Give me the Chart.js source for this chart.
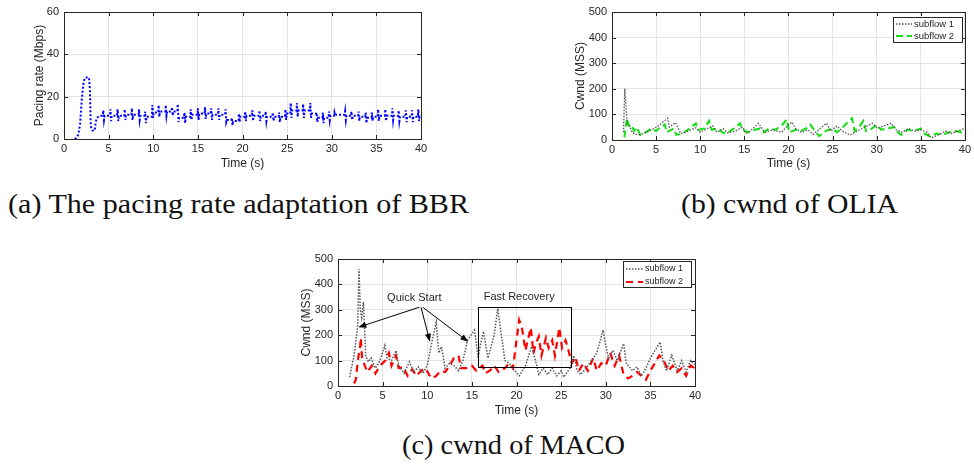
<!DOCTYPE html>
<html>
<head>
<meta charset="utf-8">
<script src="https://cdn.jsdelivr.net/npm/chart.js@4.4.0/dist/chart.umd.min.js"></script>
<style>
  body { margin: 0; background: #fff; width: 974px; height: 464px; position: relative; overflow: hidden; }
  canvas { position: absolute; }
  .cap { position: absolute; font-family: "Liberation Serif", "Times New Roman", serif; font-size: 27px; line-height: 28px; white-space: nowrap; color: #111; transform-origin: 0 0; }
</style>
</head>
<body>
<canvas id="bbr" width="440" height="178" style="left:0;top:0"></canvas>
<canvas id="olia" width="434" height="178" style="left:540px;top:0"></canvas>
<canvas id="maco" width="430" height="180" style="left:290px;top:245px"></canvas>
<div class="cap" data-w="461" style="left:8px;top:190px">(a) The pacing rate adaptation of BBR</div>
<div class="cap" data-w="217" style="left:681px;top:190px">(b) cwnd of OLIA</div>
<div class="cap" data-w="223" style="left:402px;top:431px">(c) cwnd of MACO</div>
<script>
// (a) BBR pacing rate, Mbps
const bbrTime = [1.2,1.4,1.6,1.8,2.0,2.2,2.35,2.8,2.9,3.0,3.2,3.45,3.55,3.7,4.0,
  4.35,4.4,4.48,4.55, 5.15,5.2,5.28,5.35, 5.95,6.0,6.08,6.15, 6.75,6.8,6.88,6.95,
  7.55,7.6,7.68,7.75, 8.35,8.4,8.48,8.55, 9.05,9.1,9.18,9.25, 9.85,9.9,9.98,10.05,
  10.55,10.6,10.68,10.75, 11.35,11.4,11.48,11.55, 12.05,12.1,12.18,12.25, 12.7,12.75,12.83,12.9,
  13.45,13.5,13.58,13.65, 14.15,14.2,14.28,14.35, 14.95,15.0,15.08,15.15, 15.75,15.8,15.88,15.95,
  16.45,16.5,16.58,16.65, 17.25,17.3,17.38,17.45, 18.05,18.1,18.18,18.25, 18.75,18.8,18.88,18.95,
  19.55,19.6,19.68,19.75, 20.25,20.3,20.38,20.45, 21.05,21.1,21.18,21.25, 21.85,21.9,21.98,22.05,
  22.55,22.6,22.68,22.75, 23.35,23.4,23.48,23.55, 24.05,24.1,24.18,24.25, 24.75,24.8,24.88,24.95,
  25.35,25.4,25.48,25.55, 26.05,26.1,26.18,26.25, 26.75,26.8,26.88,26.95, 27.55,27.6,27.68,27.75,
  28.25,28.3,28.38,28.45, 28.95,29.0,29.08,29.15, 29.65,29.7,29.78,29.85, 30.25,30.3,30.38,30.45,
  31.45,31.5,31.58,31.65, 32.15,32.2,32.28,32.35, 32.95,33.0,33.08,33.15, 33.75,33.8,33.88,33.95,
  34.45,34.5,34.58,34.65, 35.15,35.2,35.28,35.35, 35.95,36.0,36.08,36.15, 36.75,36.8,36.88,36.95,
  37.45,37.5,37.58,37.65, 38.25,38.3,38.38,38.45, 38.95,39.0,39.08,39.15, 39.65,39.7,39.78,39.85, 40.0];
const bbrRate = [0,0.5,2,7,19,27,29,29,24,6,4,4,8,10,11,
  11,13.5,9,11, 11,14,8.5,11, 11,14,8.5,11, 11,14,9,11.5,
  11.5,14.5,9,11.5, 11.5,14,9,11, 11,13,7.5,10.5, 10.5,16,10,12.5,
  12.5,16,10.5,13, 13,16,11,13, 13,15,11,13, 13,16.5,8,10,
  10,12.5,7.5,10.5, 10.5,14,9,11.5, 11.5,14.5,9,12, 12,15,9.5,12,
  12,14.5,9,11.5, 11.5,14.5,9,11.5, 11.5,14,8,9, 9,10,6.5,8.5,
  8.5,12,8,10.5, 10.5,13,8.5,11, 11,13.5,8.5,11, 11,13.5,8.5,11,
  11,13,8.5,10.5, 10.5,12.5,8.5,10.5, 10.5,12.5,8,10.5, 10.5,14,9,12,
  12,17,10,13.5, 13.5,17,10.5,13.5, 13.5,16.5,10,13.5, 13.5,17,10,12,
  12,12.5,8,10, 10,12.5,7.5,10, 10,13,9,11, 11,12.5,11,11.5,
  11.5,13,9,11, 11,13,9,11, 11,13,8.5,10.5, 10.5,12.5,7.5,10,
  10,12.5,8.5,10.5, 10.5,14,8.5,11, 11,14,8.5,11, 11,14.5,9,11,
  11,13.5,8.5,10.5, 10.5,13.5,8,10.5, 10.5,13.5,8,10.5, 10.5,14,8.5,11, 11];

// (b) OLIA congestion windows, MSS
const olia1Time = [1.3,1.45,1.6,1.75,2.0,2.3,2.6,3.0,3.5,4.2,5.0,5.6,6.3,6.5,7.2,7.8,8.6,9.5,10.0,10.8,
  11.4,11.9,12.6,13.1,14.0,14.8,15.2,16.0,16.6,17.3,18.3,19.2,19.9,20.4,20.8,21.5,22.2,22.8,23.6,24.3,
  24.8,25.5,26.3,27.0,27.8,28.6,29.5,30.1,30.8,31.6,32.2,32.9,33.6,34.3,35.0,35.7,36.2,37.0,37.8,38.4,39.2,40.0];
const olia1Cwnd = [30,200,120,60,55,30,22,20,25,35,50,65,85,50,68,25,35,48,30,45,
  55,30,45,28,35,50,25,45,65,30,40,30,55,70,45,30,40,22,45,65,
  35,55,30,20,35,50,65,45,55,65,40,30,45,35,40,30,8,20,35,25,35,45];
const olia2Time = [1.4,1.7,1.9,2.2,2.5,2.8,3.2,3.8,4.5,5.0,5.5,6.0,6.2,7.0,7.3,8.0,8.8,9.5,9.8,10.5,
  11.0,11.3,12.0,12.5,13.0,13.8,14.5,14.8,15.5,16.2,16.8,17.2,17.8,18.5,19.2,19.8,20.1,20.8,21.4,22.0,
  22.5,23.0,23.5,24.2,25.0,25.5,26.3,27.2,27.5,28.0,28.5,28.8,29.5,30.0,30.5,31.2,32.0,32.4,32.8,33.5,
  34.2,35.0,35.4,36.0,36.8,37.5,38.2,39.0,39.6,40.0];
const olia2Cwnd = [10,85,55,60,35,50,20,30,45,35,50,60,30,45,20,25,45,65,40,45,
  75,40,45,30,25,45,65,40,30,40,45,30,45,40,55,80,30,40,35,45,
  60,35,15,35,45,30,55,85,35,50,75,35,45,60,40,45,50,30,20,40,
  35,45,25,15,25,20,30,35,30,40];

// (c) MACO congestion windows, MSS
const maco1Time = [1.3,1.8,2.2,2.35,2.5,2.65,2.85,3.1,3.4,3.7,4.2,4.7,5.25,5.5,6.0,6.5,6.8,7.4,8.0,8.5,
  9.0,9.5,10.0,10.5,11.0,11.3,11.6,12.0,12.5,13.0,13.5,14.0,14.5,15.3,15.7,16.0,16.3,16.8,17.5,17.9,
  18.3,18.7,19.2,19.8,20.3,21.0,21.7,22.2,22.5,23.0,23.5,24.0,24.5,25.0,25.3,26.0,26.4,26.8,27.2,28.0,
  29.0,29.7,30.0,30.3,30.8,31.3,32.0,32.3,33.0,33.5,34.0,34.5,35.0,36.1,36.4,36.8,37.4,38.0,38.5,39.0,39.5,40.0];
const maco1Cwnd = [35,120,233,460,300,270,330,120,95,110,70,100,160,110,100,140,80,50,95,55,
  75,50,80,170,250,130,155,70,90,80,60,100,180,220,110,170,215,110,200,305,
  200,100,90,60,40,80,155,90,45,70,45,70,40,60,35,70,120,60,45,80,
  130,220,160,110,140,100,167,90,60,75,40,70,110,173,100,60,121,60,100,55,100,85];
const maco2Time = [1.8,2.0,2.1,2.3,2.45,2.55,2.7,3.0,3.3,3.8,4.2,4.7,5.3,5.7,6.0,6.5,6.8,7.3,7.8,8.3,
  8.8,9.3,9.8,10.2,10.5,11.0,11.5,12.0,12.5,13.0,13.5,13.8,14.5,15.0,15.5,16.2,16.5,17.0,17.5,18.0,
  18.7,19.2,19.6,20.0,20.3,20.6,21.0,21.6,21.9,22.2,22.5,22.8,23.3,23.6,24.0,24.3,24.8,25.1,25.5,25.9,
  26.2,26.6,27.0,27.5,28.0,28.6,29.0,29.5,30.0,30.5,31.0,31.5,32.0,32.5,33.0,33.5,34.0,34.5,35.0,35.5,
  36.0,36.5,37.0,37.5,38.0,38.5,39.0,39.5,40.0];
const maco2Cwnd = [10,25,60,120,140,190,110,80,55,80,50,80,100,130,80,120,70,75,40,65,
  40,60,70,45,30,40,60,55,80,110,120,70,70,80,60,80,50,60,80,55,
  70,90,70,180,260,230,140,230,130,170,195,120,190,150,180,120,230,150,180,130,
  90,115,60,90,60,110,60,90,80,130,80,120,45,30,40,55,40,25,60,90,
  120,100,60,80,55,70,40,80,70];

const timeTicks = [0, 40, 5];
const subflowLabels = ['subflow 1', 'subflow 2'];

const pts = (xs, ys) => xs.map((x, i) => ({x: x, y: ys[i]}));

const ink = '#262626';
const sans = '"Liberation Sans", Arial, Helvetica, sans-serif';
const tickFont = {family: sans, size: 11};
const labelFont = {family: sans, size: 12};

// box around the plot with short inward ticks, like the plotting tool draws
const frame = {
  id: 'frame',
  afterDatasetsDraw(chart) {
    const {ctx, chartArea: a, scales} = chart;
    ctx.save();
    ctx.strokeStyle = ink;
    ctx.lineWidth = 1;
    ctx.beginPath();
    scales.x.ticks.forEach(t => {
      const px = Math.round(scales.x.getPixelForValue(t.value)) + 0.5;
      ctx.moveTo(px, a.bottom); ctx.lineTo(px, a.bottom - 4);
      ctx.moveTo(px, a.top); ctx.lineTo(px, a.top + 4);
    });
    scales.y.ticks.forEach(t => {
      const py = Math.round(scales.y.getPixelForValue(t.value)) + 0.5;
      ctx.moveTo(a.left, py); ctx.lineTo(a.left + 4, py);
      ctx.moveTo(a.right, py); ctx.lineTo(a.right - 4, py);
    });
    ctx.stroke();
    ctx.strokeRect(Math.round(a.left) + 0.5, Math.round(a.top) + 0.5, Math.round(a.right - a.left), Math.round(a.bottom - a.top));
    ctx.restore();
  }
};

// legend box in the top right corner, with dashed line samples
const lineLegend = {
  id: 'lineLegend',
  afterDatasetsDraw(chart, args, o) {
    if (!o.show) return;
    const {ctx, chartArea: a} = chart;
    const x = Math.round(a.right - o.right - o.w), y = Math.round(a.top + o.top);
    ctx.save();
    ctx.fillStyle = '#fff';
    ctx.fillRect(x, y, o.w, o.h);
    ctx.strokeStyle = ink;
    ctx.lineWidth = 1;
    ctx.strokeRect(x + 0.5, y + 0.5, o.w, o.h);
    ctx.font = o.size + 'px ' + sans;
    ctx.textBaseline = 'middle';
    chart.data.datasets.forEach((ds, i) => {
      const ry = y + o.rows[i];
      ctx.strokeStyle = ds.borderColor;
      ctx.lineWidth = ds.borderWidth;
      ctx.setLineDash(ds.borderDash || []);
      ctx.beginPath();
      ctx.moveTo(x + 3, ry);
      ctx.lineTo(x + 3 + o.len, ry);
      ctx.stroke();
      ctx.setLineDash([]);
      ctx.fillStyle = ink;
      ctx.fillText(ds.label, x + 5 + o.len, ry);
    });
    ctx.restore();
  }
};

// text, box and arrows placed in data coordinates
const notes = {
  id: 'notes',
  afterDatasetsDraw(chart, args, o) {
    if (!o.show) return;
    const {ctx, scales: {x, y}} = chart;
    const X = v => x.getPixelForValue(v), Y = v => y.getPixelForValue(v);
    ctx.save();
    ctx.strokeStyle = '#000';
    ctx.fillStyle = '#000';
    ctx.lineWidth = 1;
    const b = o.box;
    ctx.strokeRect(Math.round(X(b[0])) + 0.5, Math.round(Y(b[3])) + 0.5, Math.round(X(b[1]) - X(b[0])), Math.round(Y(b[2]) - Y(b[3])));
    o.arrows.forEach(ar => {
      const sx = X(ar[0]), sy = Y(ar[1]), tx = X(ar[2]), ty = Y(ar[3]);
      const ang = Math.atan2(ty - sy, tx - sx);
      ctx.beginPath();
      ctx.moveTo(sx, sy);
      ctx.lineTo(tx - 6 * Math.cos(ang), ty - 6 * Math.sin(ang));
      ctx.stroke();
      ctx.beginPath();
      ctx.moveTo(tx, ty);
      ctx.lineTo(tx - 8 * Math.cos(ang) + 3 * Math.sin(ang), ty - 8 * Math.sin(ang) - 3 * Math.cos(ang));
      ctx.lineTo(tx - 8 * Math.cos(ang) - 3 * Math.sin(ang), ty - 8 * Math.sin(ang) + 3 * Math.cos(ang));
      ctx.closePath();
      ctx.fill();
    });
    ctx.font = '11px ' + sans;
    ctx.fillStyle = ink;
    ctx.textAlign = 'center';
    ctx.textBaseline = 'middle';
    o.texts.forEach(t => ctx.fillText(t[0], X(t[1]), Y(t[2])));
    ctx.restore();
  }
};

function axes(yMax, yStep, yTitle, yWidth, yPad, xHeight) {
  const grid = {color: '#e4e4e4', drawTicks: false, lineWidth: 1};
  return {
    x: {
      type: 'linear', min: timeTicks[0], max: timeTicks[1],
      ticks: {stepSize: timeTicks[2], font: tickFont, color: ink, padding: 3, maxRotation: 0},
      grid: grid, border: {display: false},
      title: {display: true, text: 'Time (s)', font: labelFont, color: ink, padding: {top: 0, bottom: 7}},
      afterFit(s) { s.height = xHeight; }
    },
    y: {
      min: 0, max: yMax,
      ticks: {stepSize: yStep, font: tickFont, color: ink, padding: 5},
      grid: grid, border: {display: false},
      title: {display: true, text: yTitle, font: labelFont, color: ink, padding: {top: yPad, bottom: 0}},
      afterFit(s) { s.width = yWidth; }
    }
  };
}

function line(label, data, color, width, dash) {
  return {label: label, data: data, borderColor: color, borderWidth: width, borderDash: dash,
    pointRadius: 0, fill: false, tension: 0, borderCapStyle: 'butt'};
}

function draw(id, datasets, scales, padding, plugOpts) {
  return new Chart(document.getElementById(id), {
    type: 'line',
    data: {datasets: datasets},
    options: {
      responsive: false,
      animation: false,
      devicePixelRatio: 1,
      layout: {padding: padding},
      scales: scales,
      plugins: Object.assign({legend: {display: false}, tooltip: {enabled: false}}, plugOpts)
    },
    plugins: [frame, lineLegend, notes]
  });
}

draw('bbr',
  [line('pacing rate', pts(bbrTime, bbrRate), '#0000ff', 2, [2, 2])],
  axes(60, 20, 'Pacing rate (Mbps)', 64, 32, 39),
  {left: 0, top: 12, right: 19, bottom: 0},
  {lineLegend: {show: false}, notes: {show: false}});

draw('olia',
  [line(subflowLabels[0], pts(olia1Time, olia1Cwnd), '#555555', 1.3, [1.5, 1.5]),
   line(subflowLabels[1], pts(olia2Time, olia2Cwnd), '#11e011', 2, [7, 4])],
  axes(500, 100, 'Cwnd (MSS)', 72, 33, 38),
  {left: 0, top: 12, right: 6, bottom: 0},
  {lineLegend: {show: true, w: 69, h: 25, right: 3, top: 5, rows: [7, 19], len: 16, size: 9.5}, notes: {show: false}});

draw('maco',
  [line(subflowLabels[0], pts(maco1Time, maco1Cwnd), '#555555', 1.5, [1.5, 1.5]),
   line(subflowLabels[1], pts(maco2Time, maco2Cwnd), '#ff0000', 2.2, [7, 5])],
  axes(500, 100, 'Cwnd (MSS)', 48, 9, 39),
  {left: 0, top: 14, right: 25, bottom: 0},
  {lineLegend: {show: true, w: 68, h: 26, right: 4, top: 2, rows: [8, 21], len: 17, size: 9},
   notes: {
     show: true,
     box: [15.65, 26.1, 73, 310],
     arrows: [[9.1, 310, 2.27, 231], [9.3, 310, 10.3, 174], [9.5, 310, 14.6, 174]],
     texts: [['Quick Start', 8.55, 348], ['Fast Recovery', 20.3, 352]]
   }});

// stretch the captions to the width of the original serif face
document.querySelectorAll('.cap').forEach(el => {
  const w = el.getBoundingClientRect().width;
  el.style.transform = 'scaleX(' + (el.dataset.w / w) + ')';
});
</script>
</body>
</html>
